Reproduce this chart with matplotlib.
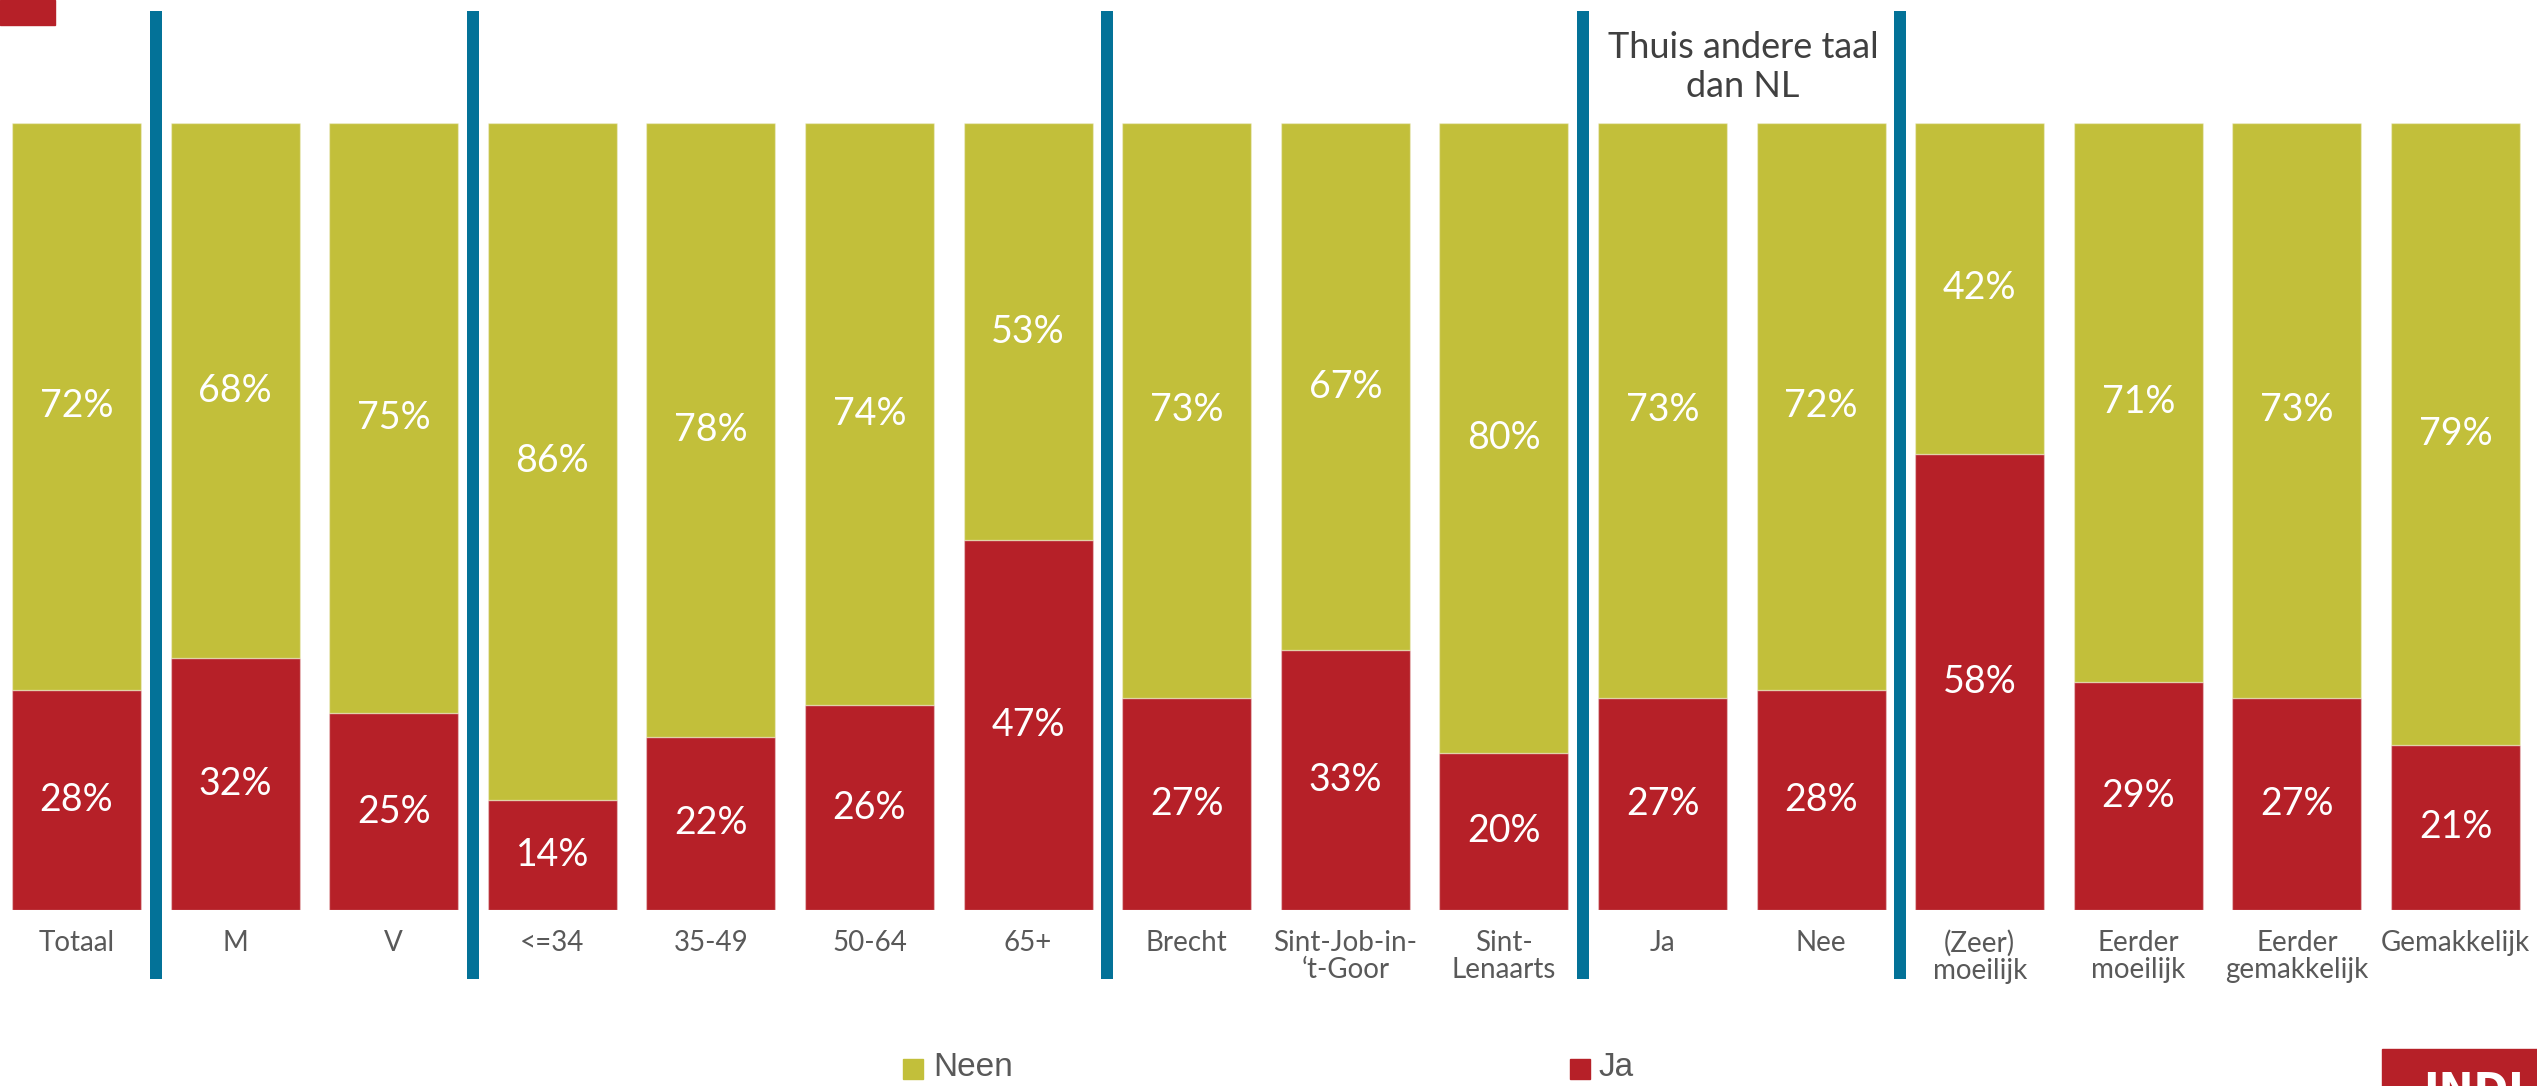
import matplotlib
matplotlib.use("Agg")
import matplotlib.pyplot as plt
from matplotlib.patches import Rectangle
from matplotlib import font_manager

categories = ["Totaal", "M", "V", "<=34", "35-49", "50-64", "65+", "Brecht",
              "Sint-Job-in-\n\u2018t-Goor", "Sint-\nLenaarts", "Ja", "Nee",
              "(Zeer)\nmoeilijk", "Eerder\nmoeilijk", "Eerder\ngemakkelijk", "Gemakkelijk"]
ja = [28, 32, 25, 14, 22, 26, 47, 27, 33, 20, 27, 28, 58, 29, 27, 21]
neen = [72, 68, 75, 86, 78, 74, 53, 73, 67, 80, 73, 72, 42, 71, 73, 79]
separators = [0.5, 2.5, 6.5, 9.5, 11.5]
group_header = "Thuis andere taal\ndan NL"
legend_labels = ["Neen", "Ja"]

GREEN = "#C2BF3A"
RED = "#B62028"
BLUE = "#037298"
GRAY = "#595959"

avail = {f.name for f in font_manager.fontManager.ttflist}
legfont = "Liberation Sans" if "Liberation Sans" in avail else "DejaVu Sans"
valfont = "Lato" if "Lato" in avail else "DejaVu Sans"

W, H = 2537, 1086
fig = plt.figure(figsize=(W / 100, H / 100), dpi=100)

def px2fx(p):
    return p / W

def py2fy(p):
    return 1 - p / H

y_top_px, y_bot_px = 123, 910
pitch = 158.6
x0px = 76.5
ax = fig.add_axes([0, py2fy(y_bot_px), 1, (y_bot_px - y_top_px) / H])
ax.set_xlim(-x0px / pitch, (W - x0px) / pitch)
ax.set_ylim(0, 100)
ax.axis("off")

x = list(range(len(categories)))
bw = 129 / pitch
ax.bar(x, ja, width=bw, color=RED, edgecolor=(1, 1, 1, 0.35), linewidth=1)
ax.bar(x, neen, width=bw, bottom=ja, color=GREEN, edgecolor=(1, 1, 1, 0.35), linewidth=1)

for i in x:
    ax.text(i, ja[i] / 2, f"{ja[i]}%", ha="center", va="center", color="white",
            fontsize=27, family=valfont)
    ax.text(i, ja[i] + neen[i] / 2, f"{neen[i]}%", ha="center", va="center",
            color="white", fontsize=27, family=valfont)
    ax.text(i, -2.5, categories[i], ha="center", va="top", color=GRAY,
            fontsize=20, family=valfont, linespacing=1.08, clip_on=False)

def pyd(p):
    return (y_bot_px - p) / (y_bot_px - y_top_px) * 100

for s in separators:
    ax.plot([s, s], [pyd(979), pyd(11)], color=BLUE, linewidth=12 * 0.72,
            solid_capstyle="butt", clip_on=False)

ax.text((1743 - x0px) / pitch, pyd(67), group_header, ha="center", va="center",
        color="#404040", fontsize=26, family=valfont, linespacing=1.2, clip_on=False)

# decorative rectangles
fig.patches.append(Rectangle((0, py2fy(25)), px2fx(55), 25 / H, transform=fig.transFigure,
                             color=RED, zorder=5))
fig.patches.append(Rectangle((px2fx(2382), 0), px2fx(W - 2382), (H - 1049) / H,
                             transform=fig.transFigure, color=RED, zorder=5))
fig.text(px2fx(2423), py2fy(1070), "INDI", color="white", fontsize=30, fontweight="bold",
         family="DejaVu Sans", ha="left", va="top", zorder=6)

# legend
for (lx, tx, lab, col) in [(903, 933, legend_labels[0], GREEN), (1570, 1598, legend_labels[1], RED)]:
    fig.patches.append(Rectangle((px2fx(lx), py2fy(1079)), px2fx(20), 20 / H,
                                 transform=fig.transFigure, color=col))
    fig.text(px2fx(tx), py2fy(1068), lab, color=GRAY, fontsize=24, family=legfont,
             ha="left", va="center")

fig.savefig("out.png", dpi=100)
